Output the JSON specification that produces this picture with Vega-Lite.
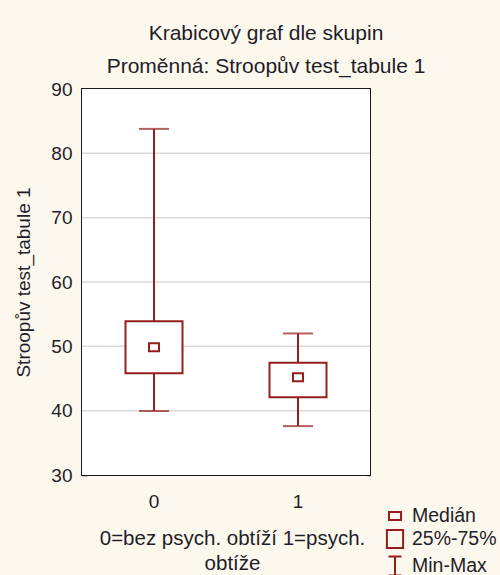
{
  "$schema": "https://vega.github.io/schema/vega-lite/v6.json",
  "autosize": "none",
  "width": 288,
  "height": 386,
  "padding": {"left": 82, "top": 89, "right": 130, "bottom": 100},
  "background": "#fdf8ee",
  "view": {"stroke": "#1a1a1a", "strokeWidth": 2},
  "config": {
    "font": "Liberation Sans",
    "axis": {
      "labelFont": "Liberation Sans",
      "titleFont": "Liberation Sans",
      "labelColor": "#1e1e28",
      "titleColor": "#1e1e28",
      "labelFontSize": 19,
      "titleFontSize": 19,
      "titleFontWeight": "normal",
      "domain": false,
      "tickColor": "#1a1a1a",
      "tickWidth": 1.5
    }
  },
  "title": {
    "text": ["Krabicový graf dle skupin", "Proměnná: Stroopův test_tabule 1"],
    "fontSize": 21,
    "fontWeight": "normal",
    "font": "Liberation Sans",
    "color": "#1e1e28",
    "lineHeight": 33,
    "offset": 3,
    "anchor": "middle",
    "dx": 40
  },
  "datasets": {
    "boxes": [
      {"group": "0", "min": 39.95, "q1": 45.8, "median": 49.85, "q3": 53.9, "max": 83.8},
      {"group": "1", "min": 37.6, "q1": 42.1, "median": 45.2, "q3": 47.45, "max": 52.0}
    ],
    "gridlines": [
      {"v": 40}, {"v": 50}, {"v": 60}, {"v": 70}, {"v": 80}
    ],
    "panel": [
      {"panel": "plot"}
    ],
    "legenditems": [
      {"item": "Medián"},
      {"item": "25%-75%"},
      {"item": "Min-Max"}
    ]
  },
  "layer": [
    {
      "data": {"name": "panel"},
      "mark": {"type": "rect", "fill": "#ffffff"},
      "encoding": {}
    },
    {
      "data": {"name": "gridlines"},
      "mark": {"type": "rule", "color": "#d9d9d9", "strokeWidth": 1.5},
      "encoding": {
        "y": {"field": "v", "type": "quantitative", "scale": {"domain": [30, 90], "nice": false, "zero": false}, "axis": null}
      }
    },
    {
      "data": {"name": "boxes"},
      "mark": {"type": "rule", "color": "#941e1e", "strokeWidth": 2},
      "encoding": {
        "x": {
          "field": "group", "type": "nominal",
          "scale": {"paddingInner": 0, "paddingOuter": 0},
          "axis": {
            "orient": "bottom", "labelAngle": 0, "tickSize": -5, "labelPadding": 22,
            "grid": false,
            "title": ["0=bez psych. obtíží 1=psych.", "obtíže"],
            "titleFontSize": 20.5,
            "titleLineHeight": 25, "titlePadding": 17, "titleX": 150
          }
        },
        "y": {
          "field": "min", "type": "quantitative",
          "scale": {"domain": [30, 90], "nice": false, "zero": false},
          "axis": {
            "orient": "left", "values": [30, 40, 50, 60, 70, 80, 90],
            "tickSize": -5, "labelPadding": 15, "grid": false,
            "title": "Stroopův test_tabule 1", "titlePadding": 17
          }
        },
        "y2": {"field": "max"}
      }
    },
    {
      "data": {"name": "boxes"},
      "mark": {"type": "tick", "size": 30, "thickness": 2, "color": "#941e1e"},
      "encoding": {
        "x": {
          "field": "group", "type": "nominal",
          "scale": {"paddingInner": 0, "paddingOuter": 0},
          "axis": {"orient": "top", "labels": false, "tickSize": -5, "grid": false, "title": null}
        },
        "y": {
          "field": "min", "type": "quantitative",
          "scale": {"domain": [30, 90], "nice": false, "zero": false},
          "axis": {"orient": "right", "labels": false, "values": [30, 40, 50, 60, 70, 80, 90], "tickSize": -3, "grid": false, "title": null}
        }
      }
    },
    {
      "data": {"name": "boxes"},
      "mark": {"type": "tick", "size": 30, "thickness": 2, "color": "#941e1e"},
      "encoding": {
        "x": {"field": "group", "type": "nominal", "axis": null},
        "y": {"field": "max", "type": "quantitative", "axis": null}
      }
    },
    {
      "data": {"name": "boxes"},
      "mark": {"type": "bar", "size": 57, "fill": "white", "stroke": "#941e1e", "strokeWidth": 2},
      "encoding": {
        "x": {"field": "group", "type": "nominal", "axis": null},
        "y": {"field": "q1", "type": "quantitative", "axis": null},
        "y2": {"field": "q3"}
      }
    },
    {
      "data": {"name": "boxes"},
      "mark": {"type": "point", "shape": "M-1,-0.8H1V0.8H-1Z", "size": 100, "filled": true, "fill": "white", "stroke": "#941e1e", "strokeWidth": 2, "opacity": 1},
      "encoding": {
        "x": {"field": "group", "type": "nominal", "axis": null},
        "y": {"field": "median", "type": "quantitative", "axis": null}
      }
    },
    {
      "data": {"name": "legenditems"},
      "mark": {"type": "point", "opacity": 0},
      "encoding": {
        "shape": {
          "field": "item", "type": "nominal",
          "scale": {
            "domain": ["Medián", "25%-75%", "Min-Max"],
            "range": ["M-0.67,-0.44H0.67V0.44H-0.67Z", "M-0.9,-1H0.9V1H-0.9Z", "M-0.72,-1.05H0.72M0,-1.05V1.05M-0.72,1.05H0.72"]
          },
          "legend": {
            "orient": "none", "legendX": 303, "legendY": 417, "title": null,
            "symbolSize": 324, "symbolStrokeColor": "#941e1e", "symbolFillColor": "transparent",
            "symbolStrokeWidth": 2, "symbolOpacity": 1,
            "labelFontSize": 19.5, "labelFont": "Liberation Sans", "labelColor": "#1e1e28",
            "labelOffset": 7, "rowPadding": 0
          }
        }
      }
    }
  ],
  "resolve": {"axis": {"x": "independent", "y": "independent"}}
}
